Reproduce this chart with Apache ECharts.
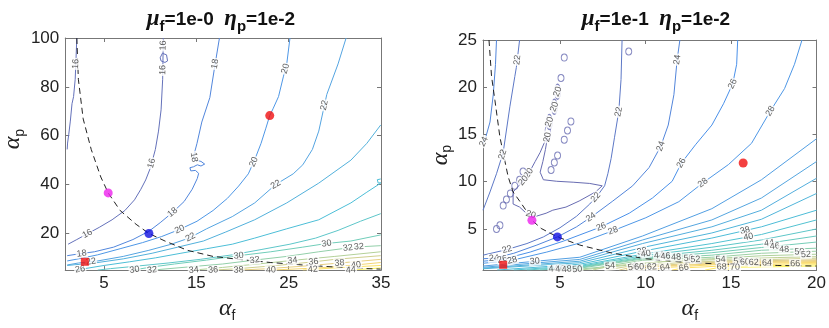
<!DOCTYPE html>
<html>
<head>
<meta charset="utf-8">
<script src="https://cdn.jsdelivr.net/npm/echarts@6/dist/echarts.min.js"></script>
<style>
  html, body { margin: 0; padding: 0; background: #fff; }
  #chart { width: 829px; height: 328px; }
</style>
</head>
<body>
<div id="chart"></div>
<script>
// ---------- left panel: mu_f = 1e-0 ----------
const leftXTicks = [5, 15, 25, 35];
const leftYTicks = [20, 40, 60, 80, 100];

const leftC16a = [[2.05,100],[1.95,90],[1.875,83.1],[1.7,76],[1.53,73.1],[1.35,66],[1.18,60.6],[1.05,57],[1.01,54.4]];
const leftC16b = [[11.42,100],[11.35,83.1],[11.18,70.6],[10.9,61.9],[10.56,54.4],[10.03,46.9],[9.51,41.9],[8.99,38.1],[8.3,33.75],[7.26,29.4],[5.87,25.6],[4.48,22.5],[3.26,20],[2.05,17.5],[1.11,15.6]];
const leftC16c = [[11.08,91.9],[11.32,93.75],[11.77,93.1],[11.88,90.6],[11.6,90],[11.18,90.6],[11.08,91.9]];
const leftC18 = [[17.5,100],[16.98,88.1],[16.46,75.6],[15.59,65.6],[15.07,56.9],[14.72,51.9],[14.8,50],[15.5,49.5],[15.9,48.4],[15.5,47.6],[15.1,48.1],[14.7,47.3],[14.3,46.9],[14.4,45.6],[14.9,45.8],[15.25,44.6],[15.1,42.5],[14.55,38.1],[13.68,33.1],[12.47,28.75],[11.08,24.4],[9.86,20.9],[8.13,17.5],[6.04,14.4],[3.96,12.5],[2.22,11.6],[1.01,10.9]];
const leftC20 = [[25.14,100],[24.79,89.4],[24.44,84.4],[23.9,76],[23.3,71],[22.95,68.25],[22.53,63.1],[22.01,56.9],[21.3,50],[20.63,44.4],[19.58,39.4],[18.37,34.4],[16.81,29.4],[15.07,25],[13.16,21.6],[11.25,18.75],[9.17,16.25],[6.74,13.75],[4.31,11.25],[2.22,9.6],[1.01,8.75]];
const leftC22 = [[31.22,100],[30.35,89.4],[29.13,76.9],[28.26,61.9],[27.57,54.4],[26.53,48.1],[25.49,44.4],[23.58,40],[21.32,32.5],[18.89,26.9],[16.11,21.9],[14.2,18.1],[12.29,15.6],[9.86,13.1],[7.08,10.6],[4.31,8.75],[2.22,7.9],[1.01,7.1]];
const leftC24 = [[34.97,64.4],[33.47,56.9],[31.74,50],[28.26,40.6],[24.79,32.5],[21.32,25.6],[18.19,20.6],[15.76,16.9],[12.99,14.4],[10.21,11.9],[7.08,9.6],[3.96,7.9],[1.01,6.9]];
const leftC26 = [[34.97,40.6],[33.47,36.9],[31.74,32.5],[28.26,25.6],[24.79,21.9],[21.32,18.1],[18.89,15.6],[16.11,13.75],[13.33,11.9],[10.56,10],[7.78,8.4],[5,6.9],[2.92,5.6],[1.875,5.0]];
const leftC26b = [[34.97,42.3],[34.6,42],[34.5,41.2],[34.7,40.6],[34.97,40.8]];
const leftC28 = [[34.97,28.1],[32.78,25],[30.35,21.25],[27.92,18.1],[25.14,15.6],[22.01,13.4],[18.89,11.25],[15.42,9.4],[11.94,7.9],[8.47,6.6],[5.69,5.6],[4.31,5]];
const leftC30 = [[34.97,19.4],[31.74,16.9],[29.13,15.9],[26.53,14.4],[23.06,12.5],[19.58,10.9],[16.11,9.1],[12.64,7.5],[9.86,6.1],[8.13,5]];
const leftC32 = [[34.97,15],[32.08,14.4],[28.26,12.5],[24.79,10.6],[21.32,9.1],[17.85,7.5],[14.03,6.25],[10.21,5]];
const leftC34 = [[34.97,12.5],[30,10.6],[25.49,9.0],[21.67,7.5],[17.85,6.1],[14.72,5]];
const leftC36 = [[34.97,10.9],[30,9.4],[27.74,8.4],[23.75,6.9],[19.58,5.6],[16.81,5]];
const leftC38 = [[34.97,9.4],[30.52,7.9],[26.53,6.6],[22.36,5.5],[19.58,5]];
const leftC40 = [[34.97,8.1],[32.26,7.1],[28.26,5.9],[23.06,5]];
const leftC42 = [[34.97,6.9],[30,5.9],[26.53,5]];
const leftC44 = [[34.97,5.9],[31.74,5]];

const leftDashed = [[2.05,100],[2.22,83.1],[2.74,66.9],[3.61,54.4],[4.65,43.1],[5.45,36.6],[6.74,29.4],[8.47,23.75],[9.86,20],[11.6,16.9],[14.03,13.1],[16.81,10.6],[19.58,9.4],[23.06,8.1],[26.53,7.1],[30,6.25],[33.47,5.6],[34.97,5.4]];
const leftMagenta = [5.45, 36.6];
const leftBlue = [9.86, 20];
const leftRed = [22.95, 68.25];
const leftSquare = [2.92, 8.4];

const leftLabels = [
  [2.0,89.4,16],[11.9,96.9,16],[11.6,86.9,16],[9.5,49.4,16],[3.26,19.4,16],
  [17.0,89.4,18],[14.8,51.25,18],[12.4,28.75,18],[2.57,11.6,18],
  [24.6,87.5,20],[21.15,49.4,20],[13.16,21.9,20],
  [28.8,72.5,22],[23.6,40,22],[14.4,18.1,22],[3.6,8.1,22],
  [2.4,5.4,26],
  [29.1,16.25,30],[31.4,14.75,32],[32.6,14.9,32],
  [19.6,10.6,30],[21.3,9.4,32],[25.4,9.0,34],[27.7,8.1,36],[30.5,7.9,38],[32.3,6.9,40],
  [8.3,5.4,30],[10.0,5.4,32],[14.0,5.9,34],[16.1,5.4,36],[19.0,5.1,38],[22.2,5.1,40],[27.6,5.6,42],[31.7,5.1,44]
];

// ---------- right panel: mu_f = 1e-1 ----------
const rightXTicks = [5, 10, 15, 20];
const rightYTicks = [5, 10, 15, 20, 25];

const rightC24a = [[1.29,25],[1.23,22.43],[1.10,19.21],[0.91,16.32],[0.66,14.71],[0.5,14.07]];
const rightC22a = [[2.64,25],[2.45,22.1],[2.36,21.14],[2.07,17.93],[1.68,13.1],[1.29,10.85],[0.91,8.92],[0.5,6.99]];
const rightC20 = [[4.27,14.71],[4.15,13.42],[4.0,12.14],[3.84,11.01],[4.03,10.21],[4.81,10.05],[5.77,9.95],[6.74,9.82],[7.47,9.57],[7.08,8.92],[6.12,7.96],[5.35,7.32],[4.58,6.99],[4.19,6.67],[3.61,6.35],[3.03,6.67],[2.64,7.32],[2.26,7.64],[2.26,8.92],[2.59,9.57],[2.97,10.37],[3.26,11.17],[3.55,12.14],[3.84,13.10],[4.07,14.07],[4.27,14.71]];
const rightC22b = [[8.63,25],[8.57,20.82],[8.44,17.48],[8.19,14.71],[7.99,12.46],[7.80,10.85],[7.61,9.57],[7.22,8.60],[6.74,7.64],[5.97,6.35],[5.0,5.13],[4.03,4.16],[3.07,3.46],[1.87,2.81],[0.5,2.23]];
const rightC24b = [[0.5,1.85],[1.14,1.91],[2.3,2.43],[3.65,3.30],[4.85,4.16],[5.97,5.23],[6.89,6.35],[8.09,7.96],[9.25,9.57],[10.21,11.5],[10.89,13.75],[11.33,16.0],[11.66,19.21],[11.85,22.9],[12.01,25]];
const rightC26 = [[0.5,1.59],[1.62,1.78],[3.26,2.56],[5.19,3.71],[7.41,5.23],[9.05,6.67],[10.41,8.28],[11.56,10.05],[12.10,11.98],[12.92,13.91],[13.88,16.0],[14.56,18.25],[15.10,20.37],[15.33,22.43],[15.39,25]];
const rightC28 = [[0.5,1.37],[2.2,1.69],[4.23,2.56],[6.16,3.52],[8.09,4.81],[10.02,6.19],[11.95,7.89],[13.36,9.89],[14.85,11.82],[16.2,14.07],[17.30,17.48],[18.13,19.86],[18.71,22.43],[19.15,25]];
const rightC30 = [[0.5,1.08],[6.16,2.01],[9.83,4.26],[13.88,7.15],[16.78,10.21],[20,14.55]];
const rightC32 = [[0.5,0.95],[6.16,1.78],[9.83,3.84],[13.88,5.96],[16.78,8.28],[20,12.14]];
const rightC34 = [[0.5,0.85],[6.16,1.59],[9.83,3.46],[13.88,5.23],[16.78,6.99],[20,10.37]];
const rightC36 = [[0.5,0.79],[6.16,1.43],[9.83,3.04],[13.88,4.58],[16.78,6.03],[20,8.76]];
const rightC38 = [[1.33,0.66],[6.16,1.27],[9.83,2.65],[13.88,4.04],[16.78,5.23],[20,6.99]];
const rightC40 = [[2.30,0.66],[6.16,1.14],[9.83,2.33],[13.88,3.46],[16.78,4.42],[20,5.96]];
const rightC42 = [[3.07,0.66],[6.16,1.04],[9.83,2.17],[13.88,3.07],[16.78,3.84],[20,5.0]];
const rightC44 = [[3.84,0.66],[6.16,0.98],[9.83,2.01],[13.88,2.75],[16.78,3.39],[20,4.26]];
const rightC46 = [[4.42,0.66],[6.16,0.92],[9.83,1.91],[13.88,2.49],[16.78,3.04],[20,3.62]];
const rightC48 = [[5.0,0.66],[6.16,0.85],[9.83,1.82],[13.88,2.23],[16.78,2.75],[20,2.97]];
const rightC50 = [[5.58,0.66],[7.32,0.95],[9.83,1.69],[13.88,2.01],[16.78,2.43],[20,2.65]];
const rightC52 = [[6.16,0.66],[8.09,1.01],[11.56,1.66],[13.88,1.85],[16.78,2.17],[20,2.33]];
const rightC54 = [[6.93,0.66],[7.93,1.08],[10.98,1.53],[14.40,1.78],[17.74,1.98],[20,2.07]];
const rightC56 = [[7.70,0.66],[8.86,1.01],[11.95,1.43],[15.04,1.66],[20,1.91]];
const rightC58 = [[8.47,0.66],[9.34,1.01],[12.92,1.37],[15.56,1.59],[20,1.75]];
const rightC60 = [[8.86,0.66],[9.63,0.98],[13.30,1.30],[15.81,1.50],[20,1.66]];
const rightC62 = [[9.63,0.66],[10.37,0.98],[13.49,1.27],[16.33,1.46],[20,1.56]];
const rightC64 = [[10.41,0.66],[11.14,0.92],[13.88,1.21],[17.10,1.40],[20,1.46]];
const rightC66 = [[11.56,0.66],[12.24,0.88],[15.04,1.14],[18.75,1.33],[20,1.33]];
const rightC68 = [[13.49,0.66],[14.46,0.98],[17.36,1.14],[20,1.21]];
const rightC70 = [[14.65,0.66],[15.23,0.95],[17.74,1.01],[20,1.08]];

// small closed loops of the 20 level
const rightLoops = [[9.02,23.78],[5.25,23.14],[5.06,20.98],[5.64,16.38],[5.44,15.42],[5.25,14.45],[4.86,12.78],[4.67,12.04],[4.48,11.24],[2.84,11.08],[2.64,10.21],[2.36,9.57],[2.10,8.76],[1.87,8.12],[1.68,7.48],[1.49,5.39],[1.29,5.0]];
const rightLongLoops = [[4.86,19.53],[4.67,17.93],[4.38,16.32],[4.29,15.19]];

const rightDashed = [[0.85,25],[1.0,21.14],[1.2,18.57],[1.49,14.71],[1.97,10.53],[2.26,8.92],[2.64,7.96],[3.13,6.67],[3.36,5.93],[3.90,5.06],[4.85,4.16],[6.16,3.30],[8.09,2.43],[10.02,1.85],[11.95,1.53],[13.88,1.33],[15.81,1.21],[17.74,1.14],[20,1.08]];
const rightMagenta = [3.36, 5.93];
const rightBlue = [4.85, 4.16];
const rightRed = [15.71, 11.98];
const rightSquare = [1.68, 1.21];

const rightLabels = [
  [0.56,14.23,24],[2.49,22.9,22],[1.56,12.94,22],
  [4.86,19.53,20],[4.67,17.93,20],[4.38,16.32,20],[4.29,15.19,20],[3.22,10.85,20],[3.32,9.41,20],[3.26,6.35,20],
  [8.32,17.44,22],[11.95,22.9,24],[15.10,20.34,26],[17.30,17.48,28],
  [10.93,13.75,24],[12.1,11.98,26],[13.36,9.89,28],
  [7.03,8.44,22],[6.83,6.19,24],[7.41,5.23,26],[8.09,4.90,28],
  [1.91,2.81,22],[1.14,1.78,24],[1.62,1.85,26],[2.2,1.78,28],[3.55,1.14,30],
  [9.79,2.65,38],[10.02,2.33,40],[15.85,4.58,38],[16.04,3.94,40],
  [10.79,2.08,44],[11.18,2.01,46],[11.80,1.85,48],[12.53,1.78,50],[12.92,1.78,52],[14.40,1.78,54],
  [15.43,1.59,58],[15.81,1.53,60],[16.33,1.53,62],[17.10,1.46,64],[18.75,1.37,66],
  [17.24,3.30,44],[17.55,3.23,46],[18.11,2.81,48],[19.0,2.49,50],[19.38,2.49,52],
  [4.61,1.01,44],[5.0,1.01,46],[5.39,1.01,48],[6.0,0.98,50],[7.93,1.11,54],[9.25,1.04,58],
  [9.63,1.01,60],[10.37,1.01,62],[11.14,0.92,64],[12.24,0.88,66],[14.46,1.01,68],[15.23,1.01,70]
];

const leftContours = [
  [16, leftC16a], [16, leftC16b], [16, leftC16c], [18, leftC18], [20, leftC20], [22, leftC22],
  [24, leftC24], [26, leftC26], [26, leftC26b], [28, leftC28], [30, leftC30], [32, leftC32],
  [34, leftC34], [36, leftC36], [38, leftC38], [40, leftC40], [42, leftC42], [44, leftC44]
];
const rightContours = [
  [24, rightC24a], [22, rightC22a], [20, rightC20], [22, rightC22b], [24, rightC24b], [26, rightC26],
  [28, rightC28], [30, rightC30], [32, rightC32], [34, rightC34], [36, rightC36], [38, rightC38],
  [40, rightC40], [42, rightC42], [44, rightC44], [46, rightC46], [48, rightC48], [50, rightC50],
  [52, rightC52], [54, rightC54], [56, rightC56], [58, rightC58], [60, rightC60], [62, rightC62],
  [64, rightC64], [66, rightC66], [68, rightC68], [70, rightC70]
];

// ---------- styling helpers ----------
const FONT = 'Liberation Sans';
const parula = ['#352a87', '#0363e1', '#1485d4', '#06a7c6', '#38b99e', '#92bf73', '#d9ba56', '#fcce2e', '#f9fb0e'];

function hexRgb(h) {
  return [parseInt(h.substr(1, 2), 16), parseInt(h.substr(3, 2), 16), parseInt(h.substr(5, 2), 16)];
}
function levelColor(lev, lo, hi) {
  let t = Math.max(0, Math.min(1, (lev - lo) / (hi - lo))) * (parula.length - 1);
  const i = Math.min(parula.length - 2, Math.floor(t));
  const f = t - i;
  const a = hexRgb(parula[i]), b = hexRgb(parula[i + 1]);
  // thin antialiased lines in the original read lighter than the colormap
  const c = a.map((v, k) => Math.round((v + (b[k] - v) * f) * 0.72 + 255 * 0.28));
  return 'rgb(' + c.join(',') + ')';
}

const chart = echarts.init(document.getElementById('chart'));

function xAxes(gridIndex, min, max, ticks) {
  const common = {
    type: 'value', gridIndex, min, max,
    axisLine: { show: true, onZero: false, lineStyle: { color: '#777', width: 1 } },
    axisTick: { show: true, inside: true, length: 4, customValues: ticks, lineStyle: { color: '#777' } },
    splitLine: { show: false }
  };
  return [
    Object.assign({}, common, {
      position: 'bottom',
      axisLabel: { customValues: ticks, margin: 5, fontSize: 17, color: '#222', fontFamily: FONT }
    }),
    Object.assign({}, common, { position: 'top', axisLabel: { show: false } })
  ];
}
function yAxes(gridIndex, min, max, ticks) {
  const common = {
    type: 'value', gridIndex, min, max,
    axisLine: { show: true, onZero: false, lineStyle: { color: '#777', width: 1 } },
    axisTick: { show: true, inside: true, length: 4, customValues: ticks, lineStyle: { color: '#777' } },
    splitLine: { show: false }
  };
  return [
    Object.assign({}, common, {
      position: 'left',
      axisLabel: { customValues: ticks, margin: 6, fontSize: 17, color: '#222', fontFamily: FONT }
    }),
    Object.assign({}, common, { position: 'right', axisLabel: { show: false } })
  ];
}

const nameRich = {
  a: { fontFamily: 'Liberation Serif', fontStyle: 'italic', fontSize: 24, color: '#222' },
  s: { fontFamily: FONT, fontSize: 14, color: '#222', padding: [14, 0, 0, 0] }
};
const titleRich = {
  g: { fontFamily: 'Liberation Serif', fontStyle: 'italic', fontWeight: 'bold', fontSize: 23, color: '#111' },
  t: { fontFamily: FONT, fontWeight: 'bold', fontSize: 19, color: '#111' },
  s: { fontFamily: FONT, fontWeight: 'bold', fontSize: 15, color: '#111', padding: [14, 0, 0, 0] }
};

const xs = xAxes(0, 0.8, 35, leftXTicks).concat(xAxes(1, 0.5, 20, rightXTicks));
const ys = yAxes(0, 5, 100, leftYTicks).concat(yAxes(1, 0.65, 25, rightYTicks));
xs[0].name = '{a|α}{s|f}'; xs[0].nameLocation = 'middle'; xs[0].nameGap = 4;
xs[0].nameTextStyle = { rich: nameRich, padding: [0, 0, 0, 8] };
xs[2].name = '{a|α}{s|f}'; xs[2].nameLocation = 'middle'; xs[2].nameGap = 4;
xs[2].nameTextStyle = { rich: nameRich, padding: [0, 0, 0, 80] };
ys[0].name = '{a|α}{s|p}'; ys[0].nameLocation = 'middle'; ys[0].nameGap = 28;
ys[0].nameTextStyle = { rich: nameRich, padding: [0, 0, 0, 30] };
ys[2].name = '{a|α}{s|p}'; ys[2].nameLocation = 'middle'; ys[2].nameGap = 18;
ys[2].nameTextStyle = { rich: nameRich };

function contourSeries(list, xi, yi, lo, hi) {
  return list.map(([lev, pts]) => ({
    type: 'line', xAxisIndex: xi, yAxisIndex: yi, data: pts,
    symbol: 'none', showSymbol: false, silent: true, animation: false, z: 2,
    lineStyle: { color: levelColor(lev, lo, hi), width: 1 }
  }));
}
function dashedSeries(pts, xi, yi) {
  return {
    type: 'line', xAxisIndex: xi, yAxisIndex: yi, data: pts,
    symbol: 'none', silent: true, animation: false, z: 3,
    lineStyle: { color: '#222', width: 1, type: [6, 4] }
  };
}
function dotSeries(pt, xi, yi, color, symbol, size) {
  return {
    type: 'scatter', xAxisIndex: xi, yAxisIndex: yi, data: [pt],
    symbol, symbolSize: size, silent: true, animation: false, z: 10,
    itemStyle: { color }
  };
}

const loopColor = levelColor(20, 19, 72);
const baseSeries = []
  .concat(contourSeries(leftContours, 0, 0, 15, 45))
  .concat(contourSeries(rightContours, 2, 2, 19, 72))
  .concat([
    {
      type: 'scatter', xAxisIndex: 2, yAxisIndex: 2, data: rightLoops, symbol: 'circle',
      symbolSize: [6, 7], silent: true, animation: false, z: 2,
      itemStyle: { color: 'rgba(0,0,0,0)', borderColor: loopColor, borderWidth: 1 }
    },
    {
      type: 'scatter', xAxisIndex: 2, yAxisIndex: 2, data: rightLongLoops, symbol: 'circle',
      symbolSize: [6, 15], silent: true, animation: false, z: 2,
      itemStyle: { color: 'rgba(0,0,0,0)', borderColor: loopColor, borderWidth: 1 }
    },
    dashedSeries(leftDashed, 0, 0),
    dashedSeries(rightDashed, 2, 2),
    dotSeries(leftMagenta, 0, 0, '#ee22ee', 'circle', 9),
    dotSeries(leftBlue, 0, 0, '#1010e0', 'circle', 9),
    dotSeries(leftRed, 0, 0, '#f01010', 'circle', 9),
    dotSeries(leftSquare, 0, 0, '#f01010', 'rect', 8),
    dotSeries(rightMagenta, 2, 2, '#ee22ee', 'circle', 9),
    dotSeries(rightBlue, 2, 2, '#1010e0', 'circle', 9),
    dotSeries(rightRed, 2, 2, '#f01010', 'circle', 9),
    dotSeries(rightSquare, 2, 2, '#f01010', 'rect', 8)
  ]);

const option = {
  backgroundColor: '#fff',
  animation: false,
  title: [
    { text: '{g|μ}{s|f}{t|=1e-0  }{g|η}{s|p}{t|=1e-2}', left: 216, top: 0, textAlign: 'center', textStyle: { rich: titleRich } },
    { text: '{g|μ}{s|f}{t|=1e-1  }{g|η}{s|p}{t|=1e-2}', left: 651, top: 0, textAlign: 'center', textStyle: { rich: titleRich } }
  ],
  grid: [
    { left: 53, top: 38, width: 328, height: 254 },
    { left: 483, top: 40, width: 337, height: 252 }
  ],
  xAxis: xs,
  yAxis: ys,
  series: baseSeries
};
chart.setOption(option);

// place the inline contour labels on the nearest line of the same level
function labelSeries(labels, contours, firstSeries, xi, yi) {
  const toPx = (q) => chart.convertToPixel({ seriesIndex: firstSeries }, q);
  const data = labels.map(([x, y, lev]) => {
    const p = toPx([x, y]);
    let best = null;
    contours.forEach(([l, pts]) => {
      if (l !== lev) return;
      const px = pts.map(toPx);
      for (let i = 0; i < px.length - 1; i++) {
        const a = px[i], b = px[i + 1];
        const dx = b[0] - a[0], dy = b[1] - a[1];
        const len2 = dx * dx + dy * dy || 1;
        const u = Math.max(0, Math.min(1, ((p[0] - a[0]) * dx + (p[1] - a[1]) * dy) / len2));
        const c = [a[0] + u * dx, a[1] + u * dy];
        const d = Math.hypot(c[0] - p[0], c[1] - p[1]);
        if (!best || d < best.d) best = { d, c, ang: Math.atan2(-dy, dx) * 180 / Math.PI };
      }
    });
    let pos = [x, y], rot = 70;
    if (best && best.d < 14) {
      pos = chart.convertFromPixel({ seriesIndex: firstSeries }, best.c);
      rot = best.ang;
      if (rot > 90) rot -= 180;
      if (rot < -90) rot += 180;
    }
    return { value: pos, label: { rotate: rot, formatter: String(lev) } };
  });
  return {
    type: 'scatter', xAxisIndex: xi, yAxisIndex: yi, data,
    symbol: 'circle', symbolSize: 1, silent: true, animation: false, z: 6,
    itemStyle: { color: 'rgba(0,0,0,0)' },
    label: {
      show: true, position: 'inside', fontSize: 9, color: '#333', fontFamily: FONT,
      backgroundColor: '#fff', padding: [0, 1]
    },
    labelLayout: { hideOverlap: false }
  };
}

const leftLabelSeries = labelSeries(leftLabels, leftContours, 0, 0, 0);
const rightLabelSeries = labelSeries(rightLabels, rightContours, leftContours.length, 2, 2);
chart.setOption({ series: baseSeries.concat([leftLabelSeries, rightLabelSeries]) });
</script>
</body>
</html>
